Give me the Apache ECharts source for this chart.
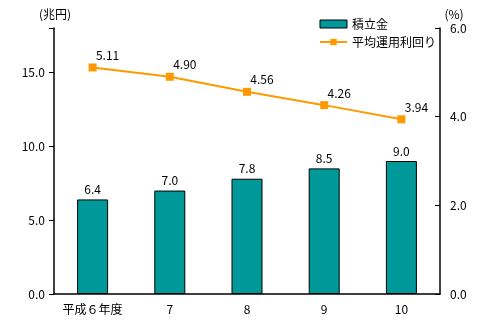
<!DOCTYPE html>
<html><head><meta charset="utf-8">
<script src="https://cdn.jsdelivr.net/npm/echarts@6/dist/echarts.min.js"></script>
<style>html,body{margin:0;padding:0;background:#fff}#c{width:491px;height:331px}</style>
</head><body><div id="c"></div>
<script>
const categories = ['平成６年度', '7', '8', '9', '10'];
const reserveValues = [6.4, 7.0, 7.8, 8.5, 9.0];
const yieldValues = [5.11, 4.90, 4.56, 4.26, 3.94];
const leftTicks = [0, 5, 10, 15];
const rightTicks = [0, 2, 4, 6];

const FONT = '"Noto Sans CJK JP", sans-serif';
const chart = echarts.init(document.getElementById('c'), null, {renderer: 'canvas'});
chart.setOption({
  animation: false,
  textStyle: {fontFamily: FONT, color: '#000'},
  grid: {left: 54, right: 51, top: 28, bottom: 37},
  legend: {
    orient: 'vertical', left: 314, top: 13, itemGap: 6, itemWidth: 27, itemHeight: 8,
    textStyle: {fontFamily: FONT, fontSize: 12, color: '#000'},
    data: [
      {name: '積立金', icon: 'rect', itemStyle: {color: '#009999', borderColor: '#000', borderWidth: 1}},
      {name: '平均運用利回り'}
    ]
  },
  xAxis: {
    type: 'category', data: categories, boundaryGap: true,
    axisLine: {lineStyle: {color: '#000', width: 1.5}},
    axisTick: {inside: true, length: 5, interval: 0, lineStyle: {color: '#000'}},
    axisLabel: {color: '#000', fontSize: 12, margin: 9, interval: 0, fontFamily: FONT}
  },
  yAxis: [
    {
      type: 'value', min: 0, max: 18, interval: 5, name: '(兆円)',
      nameLocation: 'end', nameGap: 8, nameTextStyle: {color: '#000', fontSize: 12, align: 'center', padding: [0, 0, 0, 2]},
      splitLine: {show: false},
      axisLine: {show: true, lineStyle: {color: '#000', width: 1.5}},
      axisTick: {show: true, length: 5, lineStyle: {color: '#000'}},
      axisLabel: {color: '#000', fontSize: 12, margin: 9, formatter: v => leftTicks.includes(v) ? v.toFixed(1) : ''}
    },
    {
      type: 'value', min: 0, max: 6, interval: 2, name: '(%)',
      nameLocation: 'end', nameGap: 8, nameTextStyle: {color: '#000', fontSize: 12, align: 'center', padding: [0, 0, 0, 28]},
      splitLine: {show: false},
      axisLine: {show: true, lineStyle: {color: '#000', width: 1.5}},
      axisTick: {show: true, inside: true, length: 5, lineStyle: {color: '#000'}},
      axisLabel: {color: '#000', fontSize: 12, margin: 10, formatter: v => rightTicks.includes(v) ? v.toFixed(1) : ''}
    }
  ],
  series: [
    {
      name: '積立金', type: 'bar', data: reserveValues, barWidth: 31,
      itemStyle: {color: '#009999', borderColor: '#000', borderWidth: 1},
      label: {show: true, position: 'top', distance: 4, color: '#000', fontSize: 12, fontFamily: FONT, formatter: p => p.value.toFixed(1)}
    },
    {
      name: '平均運用利回り', type: 'line', yAxisIndex: 1, data: yieldValues,
      symbol: 'rect', symbolSize: 8,
      lineStyle: {color: '#FF9900', width: 2},
      itemStyle: {color: '#FF9900'},
      label: {show: true, position: 'top', offset: [15, 0], distance: 2, color: '#000', fontSize: 12, fontFamily: FONT, formatter: p => p.value.toFixed(2)}
    }
  ]
});
</script></body></html>
